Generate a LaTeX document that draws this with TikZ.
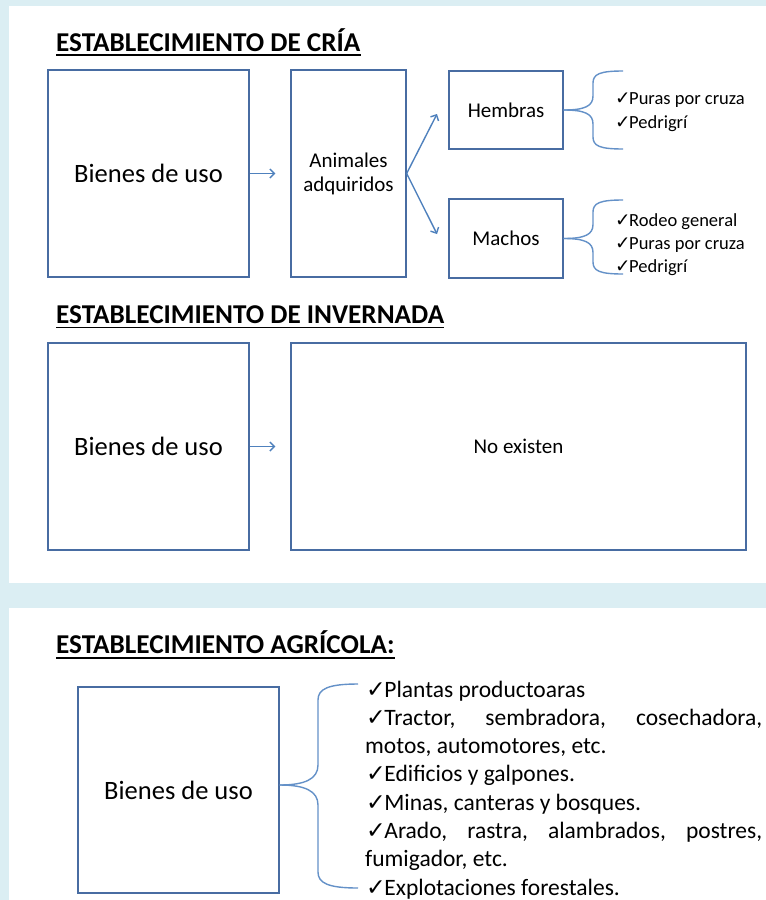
\documentclass[tikz,border=0pt]{standalone}
\usepackage{fontspec}
\setmainfont{Carlito}
\newfontfamily\symfont{DejaVu Sans}
\usetikzlibrary{arrows.meta}
\definecolor{bgblue}{RGB}{219,238,243}
\definecolor{boxblue}{RGB}{72,108,162}
\definecolor{arrowblue}{RGB}{79,129,189}
\definecolor{braceblue}{RGB}{100,145,200}
\newcommand\ck{{\symfont ✓}\kern-1.5pt}
\begin{document}
\begin{tikzpicture}[x=1pt,y=-1pt,
  box/.style={draw=boxblue, line width=1.3pt, fill=white, inner sep=0pt, align=center, text=black},
  arr/.style={draw=arrowblue, line width=1.4pt, -{Straight Barb[length=4.5pt,width=9pt]}},
  brace/.style={draw=braceblue, line width=1.4pt},
  title/.style={anchor=base west, inner sep=0pt, font=\fontsize{27.2}{30}\selectfont\bfseries},
  big/.style={font=\fontsize{26.5}{30}\selectfont},
  mid/.style={font=\fontsize{21}{24}\selectfont},
  small/.style={anchor=base west, inner sep=0pt, font=\fontsize{18.5}{22}\selectfont},
  list/.style={anchor=base west, inner sep=0pt, font=\fontsize{23.5}{28}\selectfont},
  uline/.style={draw=black, line width=1.6pt}
]
\useasboundingbox (0,0) rectangle (766,900);
\fill[bgblue] (0,0) rectangle (766,900);
\fill[white] (9,6) rectangle (766,583);
\fill[white] (9,608) rectangle (766,900);

% ---- Section 1
\node[title] (t1) at (56,51) {ESTABLECIMIENTO DE CRÍA};
\draw[uline] ([yshift=-4pt]t1.base west) -- ([yshift=-4pt]t1.base east);

\node[box, big, minimum width=201, minimum height=207] (b1) at (148.5,173.5) {Bienes de uso};
\node[box, mid, minimum width=115, minimum height=207] (b2) at (348.5,173.5) {Animales\\adquiridos};
\node[box, mid, minimum width=114, minimum height=78] (hem) at (506,110) {Hembras};
\node[box, mid, minimum width=114, minimum height=79] (mac) at (506,238.5) {Machos};

\draw[arr, shorten >=15pt] (b1.east) -- (b2.west);
\coordinate (hemtip) at (437,114);
\coordinate (mactip) at (437,234);
\draw[arr] (b2.east) -- (hemtip);
\draw[arr] (b2.east) -- (mactip);

\draw[brace] (hem.east) .. controls (585,110) and (593,106) .. (593,96) -- (593,83) .. controls (593,74) and (600,71) .. (623,71);
\draw[brace] (hem.east) .. controls (585,110) and (593,114) .. (593,124) -- (593,137) .. controls (593,146) and (600,149) .. (623,149);
\draw[brace] (mac.east) .. controls (585,238.5) and (593,234.5) .. (593,224.5) -- (593,212) .. controls (593,203) and (600,200) .. (623,200);
\draw[brace] (mac.east) .. controls (585,238.5) and (593,242.5) .. (593,252.5) -- (593,262) .. controls (593,271) and (600,274) .. (623,274);

\node[small] (h1) at (615,104) {\ck Puras por cruza};
\node[small] (h2) at (615,128) {\ck Pedrigrí};
\node[small] (m1) at (615,226) {\ck Rodeo general};
\node[small] (m2) at (615,249) {\ck Puras por cruza};
\node[small] (m3) at (615,272) {\ck Pedrigrí};

% ---- Section 2
\node[title] (t2) at (56,323) {ESTABLECIMIENTO DE INVERNADA};
\draw[uline] ([yshift=-4.5pt]t2.base west) -- ([yshift=-4.5pt]t2.base east);

\node[box, big, minimum width=201, minimum height=207] (b3) at (148.5,446.5) {Bienes de uso};
\node[box, mid, minimum width=455, minimum height=207] (b4) at (518.5,446.5) {No existen};
\draw[arr, shorten >=15pt] (b3.east) -- (b4.west);

% ---- Section 3
\node[title] (t3) at (56,653) {ESTABLECIMIENTO AGRÍCOLA:};
\draw[uline] ([yshift=-5pt]t3.base west) -- ([yshift=-5pt]t3.base east);

\node[box, big, minimum width=201, minimum height=206] (b5) at (178.5,790) {Bienes de uso};
\coordinate (btip) at ([yshift=5pt]b5.east);
\draw[brace] (btip) .. controls (305,785) and (318,779) .. (318,765) -- (318,700) .. controls (318,689) and (328,684) .. (358,684);
\draw[brace] (btip) .. controls (305,785) and (318,791) .. (318,805) -- (318,872) .. controls (318,883) and (328,888) .. (358,888);

\node[list] (l1) at (366,697) {\ck Plantas productoaras};
\node[list] (l2) at (366,725.3) {\hbox to 396pt{\ck Tractor,\hfill sembradora,\hfill cosechadora,}};
\node[list] (l3) at (365,753.6) {motos, automotores, etc.};
\node[list] (l4) at (366,781.9) {\ck Edificios y galpones.};
\node[list] (l5) at (366,810.2) {\ck Minas, canteras y bosques.};
\node[list] (l6) at (366,838.5) {\hbox to 396pt{\ck Arado,\hfill rastra,\hfill alambrados,\hfill postres,}};
\node[list] (l7) at (365,866.8) {fumigador, etc.};
\node[list] (l8) at (366,895.1) {\ck Explotaciones forestales.};
\end{tikzpicture}
\end{document}
